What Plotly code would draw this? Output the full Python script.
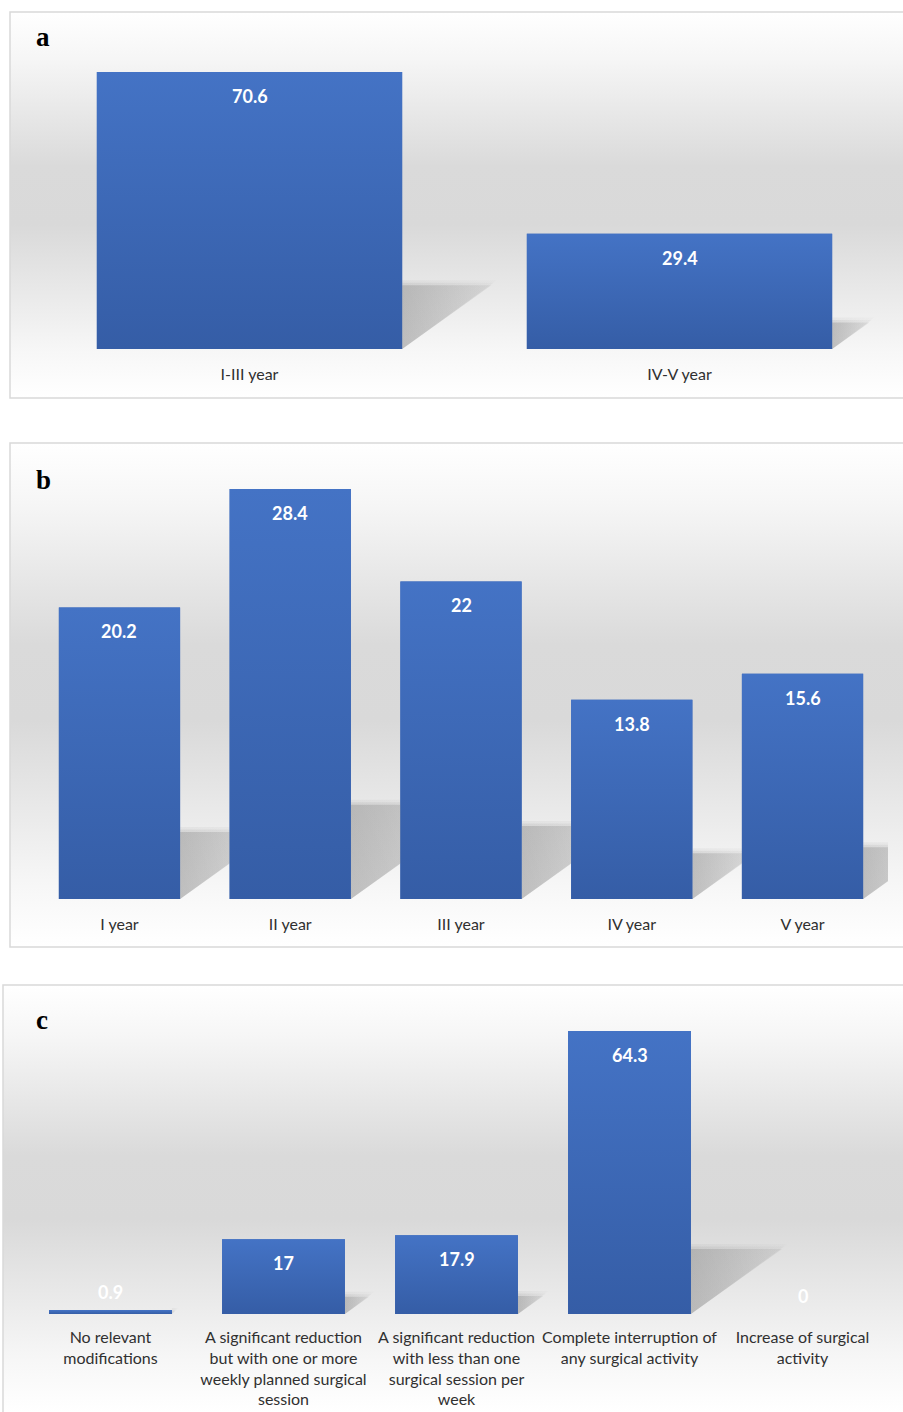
import plotly.graph_objects as go

W, H = 903, 1412

# ---------------- data ----------------
cats_a = ["I-III year", "IV-V year"]
vals_a = [70.6, 29.4]

cats_b = ["I year", "II year", "III year", "IV year", "V year"]
vals_b = [20.2, 28.4, 22, 13.8, 15.6]

cats_c = [
    "No relevant<br>modifications",
    "A significant reduction<br>but with one or more<br>weekly planned surgical<br>session",
    "A significant reduction<br>with less than one<br>surgical session per<br>week",
    "Complete interruption of<br>any surgical activity",
    "Increase of surgical<br>activity",
]
vals_c = [0.9, 17, 17.9, 64.3, 0]

letters = ["a", "b", "c"]

# ---------------- layout geometry (pixels) ----------------
panels = [
    dict(cats=cats_a, vals=vals_a, letter="a", box=(10, 12, 915, 398),
         px=(34.5, 894.5), base=349, ymax=75, top=54.7, letter_xy=(34, 37),
         standoff=14),
    dict(cats=cats_b, vals=vals_b, letter="b", box=(10, 443, 915, 947),
         px=(34.1, 887.9), base=899, ymax=30, top=465.9, letter_xy=(34, 480),
         standoff=14),
    dict(cats=cats_c, vals=vals_c, letter="c", box=(3, 985, 915, 1420),
         px=(24, 889), base=1314, ymax=70, top=1005.9, letter_xy=(34, 1020),
         standoff=12),
]

BAR_W = 0.71
FONT = "Lato"


def fx(p):
    return p / W


def fy(p):
    return 1 - p / H


fig = go.Figure()
layout = dict(
    width=W, height=H, margin=dict(l=0, r=0, t=0, b=0),
    paper_bgcolor="white", plot_bgcolor="rgba(0,0,0,0)",
    showlegend=False, bargap=1 - BAR_W,
)
shapes = []
annotations = []

# background subplots first (axes 1..3), bar subplots after (axes 4..6)
for k, p in enumerate(panels):
    n = k + 1
    x0, y0, x1, y1 = p["box"]
    xa = "x" if n == 1 else f"x{n}"
    ya = "y" if n == 1 else f"y{n}"
    layout["xaxis" if n == 1 else f"xaxis{n}"] = dict(
        domain=[fx(x0), min(1, fx(x1))], range=[0, 1], visible=False,
        fixedrange=True, anchor=ya)
    layout["yaxis" if n == 1 else f"yaxis{n}"] = dict(
        domain=[max(0, fy(y1)), fy(y0)], range=[0, 1], visible=False,
        fixedrange=True, anchor=xa)
    fig.add_trace(go.Scatter(
        x=[0, 1, 1, 0, 0], y=[0, 0, 1, 1, 0], xaxis=xa, yaxis=ya,
        mode="lines", line=dict(width=0), fill="toself",
        fillgradient=dict(type="vertical", colorscale=[
            [0.0, "#ffffff"], [0.12, "#f7f7f7"], [0.45, "#d9d9d9"],
            [0.6, "#dadada"], [0.88, "#f6f6f6"], [1.0, "#ffffff"]]),
        hoverinfo="skip"))
    shapes.append(dict(type="rect", xref="paper", yref="paper",
                       x0=fx(x0), x1=fx(x1), y0=fy(y1), y1=fy(y0),
                       line=dict(color="#d9d9d9", width=1.5), layer="above"))
    lx, ly = p["letter_xy"]
    annotations.append(dict(xref="paper", yref="paper", x=fx(lx), y=fy(ly),
                            xanchor="left", yanchor="middle", showarrow=False,
                            text=p["letter"],
                            font=dict(family="Liberation Serif", size=27,
                                      color="black", weight="bold")))

for k, p in enumerate(panels):
    n = k + 4
    xa, ya = f"x{n}", f"y{n}"
    cats, vals = p["cats"], p["vals"]
    m = len(cats)
    xl, xr = p["px"]
    ppx = (xr - xl) / m          # pixels per category unit
    ppu = (p["base"] - p["top"]) / p["ymax"]  # pixels per value unit
    layout[f"xaxis{n}"] = dict(
        domain=[fx(xl), fx(xr)], range=[-0.5, m - 0.5], fixedrange=True,
        anchor=ya,
        tickmode="array", tickvals=list(range(m)), ticktext=cats,
        showgrid=False, zeroline=False, showline=False, ticks="",
        ticklabelstandoff=p["standoff"],
        tickfont=dict(family=FONT, size=16, color="#303030"))
    layout[f"yaxis{n}"] = dict(
        domain=[fy(p["base"]), fy(p["top"])], range=[0, p["ymax"]],
        visible=False, fixedrange=True, anchor=xa)

    # perspective shadows (soft), derived from each bar's value
    for i, v in enumerate(vals):
        if v <= 0:
            continue
        hs = 0.23 * v
        dx = 1.4 * hs * ppu / ppx
        r = i + BAR_W / 2
        for grow, alpha in [(5, 0.10), (2.5, 0.16), (0, 0.38)]:
            gx = grow / ppx
            gy = grow / ppu
            fig.add_trace(go.Scatter(
                x=[r, r + dx + gx, r, r], y=[0, hs + gy, hs + gy, 0],
                xaxis=xa, yaxis=ya,
                mode="lines", line=dict(width=0), fill="toself",
                fillgradient=dict(type="horizontal", colorscale=[
                    [0, f"rgba(140,140,140,{alpha})"],
                    [1, f"rgba(140,140,140,{alpha * 0.35})"]]),
                hoverinfo="skip"))

    # bars
    fig.add_trace(go.Bar(x=list(range(m)), y=vals, xaxis=xa, yaxis=ya,
                         marker=dict(color="#3e68b6", line=dict(width=0)),
                         hovertext=[c.replace("<br>", " ") for c in cats]))
    # gradient overlay on each bar
    for i, v in enumerate(vals):
        if v <= 0:
            continue
        l, r = i - BAR_W / 2, i + BAR_W / 2
        fig.add_trace(go.Scatter(
            x=[l, r, r, l, l], y=[0, 0, v, v, 0], xaxis=xa, yaxis=ya,
            mode="lines", line=dict(width=0), fill="toself",
            fillgradient=dict(type="vertical", colorscale=[
                [0, "#355da6"], [1, "#4473c5"]]),
            hoverinfo="skip"))

    # value labels
    for i, v in enumerate(vals):
        inside = v * ppu > 30
        annotations.append(dict(
            xref=xa, yref=ya, x=i, y=v, showarrow=False,
            text=f"{v:g}", yanchor="top" if inside else "bottom",
            yshift=-11 if inside else 5,
            font=dict(family=FONT, size=18, color="white", weight="bold")))

layout["shapes"] = shapes
layout["annotations"] = annotations
fig.update_layout(**layout)
fig.write_html("out.html")
